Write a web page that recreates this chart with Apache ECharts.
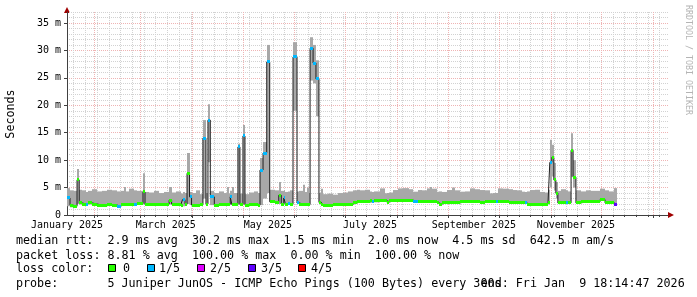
<!DOCTYPE html>
<html><head><meta charset="utf-8">
<script src="https://cdn.jsdelivr.net/npm/echarts@6/dist/echarts.min.js"></script>
<style>html,body{margin:0;padding:0;background:#fff}#c{width:697px;height:297px}</style>
</head><body><div id="c"></div>
<script>
// ---- axis / tick data ----
const firstCategoryUTC = Date.UTC(2025, 0, 16);   // category 0 = day 15 after 2025-01-01
const dayCount = 360;                             // days 15 .. 374
const xMin = 15, xMax = 374;
const yMax = 37;
const labelDates = ['2025-01-16','2025-03-16','2025-05-16','2025-07-16','2025-09-16','2025-11-16'];
const monthLabels = ['January 2025','March 2025','May 2025','July 2025','September 2025','November 2025'];

// ---- series data (day = days since 2025-01-01, values in ms) ----
const days = [15,16.8,18.5,21,22.3,24,26.5,27.5,30,33, 36,39,42,45,47,49,50,52,55,57, 60.4,61.6,64,67,70,73,76,77.5,80,83, 84,85.5,86.7,88.2,89.4,92,94.5,96.2,98,99.2, 100.6,103,106,109,110.5,111.5,112.5,113.5,115,117.1, 118.3,120.1,121.3,124,127,129,130.3,132.1,134.3,136.1, 139,141.5,143,144.5,145.5,147,148.5,150,152.4,153.6, 156,157,158.5,159.3,160.2,162,163.7,165.5,167,168, 171,174,177,180,183,186,188.5,190,193,196, 197,198.5,202,205,206.2,207.5,209.7,212.7,216,219, 221.7,224.7,227,230,232,233,236,237.2,239,242, 245,246.5,249.8,252.5,255.7,258.7,261.7,264.7,267.7,269.5, 271,272.2,275.5,279,281.4,284,287,288.3,289.5,291.6, 294.5,297.6,300.5,302.3,303.4,304.6,305.8,307,308.2,310, 313,314.5,316.1,317.3,319,322,325,328,331,333.4, 336.4,339,341.7];
const dataEnd = 343.5;
const smokeLo = [1.6,1.4,1.3,2.0,1.9,1.8,1.8,1.9,1.8,1.6, 1.5,1.7,1.6,1.4,1.7,1.8,1.8,1.8,1.8,1.9, 2.0,1.7,1.7,1.8,1.7,1.8,1.9,1.8,1.7,1.5, 1.6,1.8,2.0,1.8,1.6,1.6,1.7,3.0,1.8,9.6, 1.8,1.6,1.7,1.7,1.7,1.8,1.8,1.7,1.7,2.0, 1.7,2.0,1.6,1.8,1.8,1.6,1.8,3.0,4.0,2.2, 2.1,2.0,1.8,1.9,1.8,1.8,1.8,19.0,2.0,1.8, 1.8,1.8,1.8,1.7,24.5,24.0,18.0,2.1,1.7,1.6, 1.6,1.7,1.7,1.8,1.8,2.0,2.3,2.2,2.2,2.3, 2.2,2.3,2.4,2.4,2.1,2.4,2.4,2.4,2.4,2.4, 2.3,2.3,2.3,2.3,2.3,2.3,2.0,1.8,2.0,2.0, 2.0,2.0,2.2,2.2,2.2,2.2,2.1,2.2,2.2,2.2, 2.2,2.2,2.2,2.0,2.0,2.0,2.0,2.0,1.8,1.8, 1.8,1.8,1.8,1.9,5.0,7.0,4.5,3.0,2.0,2.1, 2.1,2.0,7.0,5.0,2.0,2.2,2.2,2.2,2.2,2.6, 2.0,2.0,1.8];
const smokeHi = [4.9,4.5,4.4,8.4,4.6,4.5,4.2,4.4,4.7,4.3, 4.4,4.6,4.5,4.3,4.4,5.1,4.3,4.8,4.5,4.4, 7.6,4.2,4.1,4.4,4.0,4.2,5.1,4.1,4.3,3.9, 4.2,4.0,11.3,4.2,4.0,4.5,3.8,17.3,4.0,20.2, 4.4,4.0,4.3,4.0,5.1,3.9,4.4,5.1,4.0,13.0, 3.9,16.4,3.8,4.1,4.3,4.0,10.4,13.3,31.0,4.6, 4.5,6.0,4.4,4.5,4.2,4.3,4.5,31.5,4.3,4.4, 5.5,4.2,5.0,4.0,32.4,31.0,28.2,4.0,4.8,3.8, 3.9,3.7,4.0,4.1,4.3,4.5,4.6,4.5,4.6,4.3, 4.2,4.3,4.85,3.95,4.0,4.1,4.55,4.85,4.9,4.7, 4.25,4.55,4.5,4.85,5.1,4.8,4.25,4.3,4.2,4.55, 5.0,4.5,4.25,4.3,4.85,4.7,4.55,4.5,3.95,4.0, 4.0,4.85,4.8,4.7,4.55,4.5,4.25,4.2,4.3,4.55, 4.6,4.2,4.1,4.6,13.7,12.8,9.5,6.0,4.4,4.7, 4.5,4.3,14.9,10.0,4.5,4.3,4.5,4.4,4.4,4.8, 4.5,4.3,4.9];
const median = [3.1,1.8,1.6,6.4,2.2,2.0,2.0,2.2,2.0,1.8, 1.7,1.9,1.8,1.6,1.9,2.0,2.0,2.0,2.0,2.1, 4.2,1.9,1.9,2.0,1.9,2.0,2.7,2.0,1.9,1.7, 2.8,2.0,7.6,3.3,1.8,1.8,1.9,14.0,2.0,17.3, 3.3,1.8,1.9,1.9,1.9,2.0,3.3,1.9,1.9,12.4, 1.9,14.4,1.8,2.0,2.0,1.8,8.2,11.3,27.9,2.4, 2.3,3.6,2.0,3.1,2.0,2.1,2.0,28.8,2.2,2.0, 2.0,2.0,2.0,1.9,30.4,27.7,24.8,2.3,1.9,1.8, 1.8,1.9,1.9,2.0,2.0,2.2,2.5,2.4,2.4,2.6, 2.5,2.6,2.7,2.7,2.3,2.7,2.7,2.7,2.7,2.7, 2.5,2.5,2.5,2.5,2.5,2.5,2.2,2.0,2.2,2.2, 2.2,2.2,2.4,2.4,2.4,2.4,2.3,2.4,2.4,2.4, 2.4,2.4,2.4,2.2,2.2,2.2,2.2,2.2,2.0,2.0, 2.0,2.0,2.0,2.2,9.6,10.5,6.4,4.0,2.2,2.3, 2.3,2.2,11.8,6.9,2.2,2.4,2.4,2.4,2.4,2.8, 2.2,2.2,2.0];
const loss = [1,0,0,0,0,0,1,0,0,0, 0,0,0,1,0,0,0,0,1,0, 0,0,0,0,0,0,0,0,0,0, 1,0,0,1,0,0,0,1,0,1, 1,0,0,0,0,0,1,0,0,1, 0,1,0,0,0,0,1,1,1,0, 0,0,0,1,0,1,0,1,1,0, 0,0,0,0,1,1,1,0,0,0, 0,0,0,0,0,0,0,0,0,0, 1,0,0,0,0,0,0,0,0,0, 1,0,0,0,0,0,0,0,0,0, 0,0,0,0,0,0,0,0,0,0, 1,0,0,0,0,0,0,1,0,0, 0,0,0,0,1,0,0,0,0,0, 1,0,0,0,0,0,0,0,0,0, 0,0,3];

// ---- legend texts ----
const lossLabels = ['0','1/5','2/5','3/5','4/5'];
const legendRow1 = 'median rtt:  2.9 ms avg  30.2 ms max  1.5 ms min  2.0 ms now  4.5 ms sd  642.5 m am/s';
const legendRow2 = 'packet loss: 8.81 % avg  100.00 % max  0.00 % min  100.00 % now';
const legendRow3 = 'loss color:';
const legendRow4 = 'probe:       5 Juniper JunOS - ICMP Echo Pings (100 Bytes) every 300s';
const endText = 'end: Fri Jan  9 18:14:47 2026';
const yTitle = 'Seconds';
const watermark = 'RRDTOOL / TOBI OETIKER';

// ---- styles ----
const lossColors = ['#26ff00','#00b8ff','#dd00ff','#5e00ff','#ff0000'];
const SMOKE = '#a8a8a8', MEDIAN = '#202020', AXIS = '#404040', ARROW = '#a00000';
const MINOR = '#d2d2d2', MAJOR = '#efb4b4';
const MONO = '"DejaVu Sans Mono", monospace';
const G = {left: 67, right: 29, top: 12, bottom: 82};
const W = 697, H = 297;

const cats = [];
for (let i = 0; i < dayCount; i++) cats.push(new Date(firstCategoryUTC + i * 86400000).toISOString().slice(0, 10));
const dOf = i => new Date(firstCategoryUTC + i * 86400000);
const isMonday = i => dOf(i).getUTCDay() === 1;
const isMonthStart = i => dOf(i).getUTCDate() === 1;
const isLabelDay = (i, v) => labelDates.indexOf(v) >= 0;
const labelFor = v => { const k = labelDates.indexOf(v); return k >= 0 ? monthLabels[k] : ''; };

const ends = days.slice(1).concat([dataEnd]);
const smokeData = days.map((d, i) => [d, ends[i], smokeLo[i], smokeHi[i]]);
const lossData = days.map((d, i) => [d, ends[i], median[i], loss[i]]);
const medData = days.map((d, i) => [d, median[i]]).concat([[dataEnd, median[median.length - 1]]]);

function renderSmoke(params, api) {
  const a = api.coord([api.value(0), api.value(3)]);
  const b = api.coord([api.value(1), api.value(2)]);
  const x0 = Math.round(a[0]), x1 = Math.round(b[0]);
  return {type: 'rect', shape: {x: x0, y: a[1], width: Math.max(1, x1 - x0), height: b[1] - a[1]}, style: {fill: SMOKE}};
}
function renderLoss(params, api) {
  const a = api.coord([api.value(0), api.value(2)]);
  const b = api.coord([api.value(1), api.value(2)]);
  const x0 = Math.round(a[0]), x1 = Math.round(b[0]);
  return {type: 'rect', shape: {x: x0, y: Math.round(a[1] - 1.5), width: Math.max(1, x1 - x0), height: 3}, style: {fill: lossColors[api.value(3)]}};
}

// major split line colours (hide the extra line at max)
const majorTicks = [];
for (let v = 0; v <= yMax; v += 5) majorTicks.push(v);
if (majorTicks[majorTicks.length - 1] !== yMax) majorTicks.push(yMax);
const majorColors = majorTicks.map(v => (v % 5 === 0 ? MAJOR : 'rgba(0,0,0,0)'));

const axisFont = {fontFamily: MONO, fontSize: 10, color: '#000'};
const LF = '11.7px ' + MONO;
const CW = 7.04;
const rowY = [241, 255.5, 269, 283.5];
const boxX = [108, 147, 197, 248, 298];
const boxLabelX = [123, 159, 210, 261, 311];

const graphic = [
  {type: 'polygon', shape: {points: [[G.left - 3, G.top + 1], [G.left + 3, G.top + 1], [G.left, G.top - 5]]}, style: {fill: ARROW}},
  {type: 'polygon', shape: {points: [[W - G.right, H - G.bottom - 3], [W - G.right, H - G.bottom + 3], [W - G.right + 6, H - G.bottom]]}, style: {fill: ARROW}},
  {type: 'text', x: 11, y: 114, rotation: Math.PI / 2, style: {text: yTitle, font: LF, fill: '#000', align: 'center', verticalAlign: 'middle'}},
  {type: 'text', x: 688, y: 60, rotation: -Math.PI / 2, style: {text: watermark, font: '8.3px ' + MONO, fill: '#b4b4b4', align: 'center', verticalAlign: 'middle'}},
  {type: 'text', x: 16, y: rowY[0], style: {text: legendRow1, font: LF, fill: '#000', align: 'left', verticalAlign: 'middle'}},
  {type: 'text', x: 16, y: rowY[1], style: {text: legendRow2, font: LF, fill: '#000', align: 'left', verticalAlign: 'middle'}},
  {type: 'text', x: 16, y: rowY[2], style: {text: legendRow3, font: LF, fill: '#000', align: 'left', verticalAlign: 'middle'}},
  {type: 'text', x: 16, y: rowY[3], style: {text: legendRow4, font: LF, fill: '#000', align: 'left', verticalAlign: 'middle'}},
  {type: 'text', x: 16 + 66 * CW, y: rowY[3], style: {text: endText, font: LF, fill: '#000', align: 'left', verticalAlign: 'middle'}}
];
lossLabels.forEach((t, k) => {
  graphic.push({type: 'rect', shape: {x: boxX[k] + 0.5, y: rowY[2] - 4.5, width: 7, height: 7}, style: {fill: lossColors[k], stroke: '#000', lineWidth: 1}});
  graphic.push({type: 'text', x: boxLabelX[k], y: rowY[2], style: {text: t, font: LF, fill: '#000', align: 'left', verticalAlign: 'middle'}});
});

const chart = echarts.init(document.getElementById('c'), null, {renderer: 'canvas', width: W, height: H});
chart.setOption({
  animation: false,
  backgroundColor: '#ffffff',
  grid: {left: G.left, right: G.right, top: G.top, bottom: G.bottom, containLabel: false},
  xAxis: [
    {type: 'value', min: xMin, max: xMax, position: 'bottom',
     axisLine: {show: true, onZero: false, lineStyle: {color: AXIS, width: 1}},
     axisTick: {show: false}, axisLabel: {show: false}, splitLine: {show: false}},
    {type: 'category', data: cats, boundaryGap: false, position: 'bottom',
     axisLine: {show: false}, axisLabel: {show: false},
     axisTick: {show: true, interval: isMonday, length: 2, lineStyle: {color: AXIS}},
     splitLine: {show: true, interval: isMonday, lineStyle: {color: MINOR, type: [1, 1], width: 1}}},
    {type: 'category', data: cats, boundaryGap: false, position: 'bottom',
     axisLine: {show: false},
     axisTick: {show: true, interval: isMonthStart, length: 3, lineStyle: {color: AXIS}},
     axisLabel: Object.assign({show: true, interval: isLabelDay, formatter: labelFor, margin: 5}, axisFont),
     splitLine: {show: true, interval: isMonthStart, lineStyle: {color: MAJOR, type: [1, 1], width: 1}}}
  ],
  yAxis: [
    {type: 'value', min: 0, max: yMax, interval: 1, position: 'left',
     axisLine: {show: false}, axisTick: {show: false}, axisLabel: {show: false},
     splitLine: {show: true, lineStyle: {color: MINOR, type: [1, 1], width: 1}}},
    {type: 'value', min: 0, max: yMax, interval: 5, position: 'left',
     axisLine: {show: true, onZero: false, lineStyle: {color: AXIS, width: 1}},
     axisTick: {show: true, length: 3, lineStyle: {color: AXIS}},
     axisLabel: Object.assign({formatter: v => (v === 0 ? '0' : v + ' m'), margin: 6, showMaxLabel: false}, axisFont),
     splitLine: {show: true, showMaxLine: false, lineStyle: {color: majorColors, type: [1, 1], width: 1}}}
  ],
  series: [
    {type: 'custom', name: 'smoke', xAxisIndex: 0, yAxisIndex: 1, renderItem: renderSmoke, data: smokeData, encode: {x: [0, 1], y: [2, 3]}, z: 2, silent: true},
    {type: 'line', name: 'median', xAxisIndex: 0, yAxisIndex: 1, data: medData, step: 'end', symbol: 'none', lineStyle: {color: MEDIAN, width: 1}, z: 3, silent: true},
    {type: 'custom', name: 'loss', xAxisIndex: 0, yAxisIndex: 1, renderItem: renderLoss, data: lossData, encode: {x: [0, 1], y: 2}, z: 4, silent: true}
  ],
  graphic: graphic
});
</script></body></html>
